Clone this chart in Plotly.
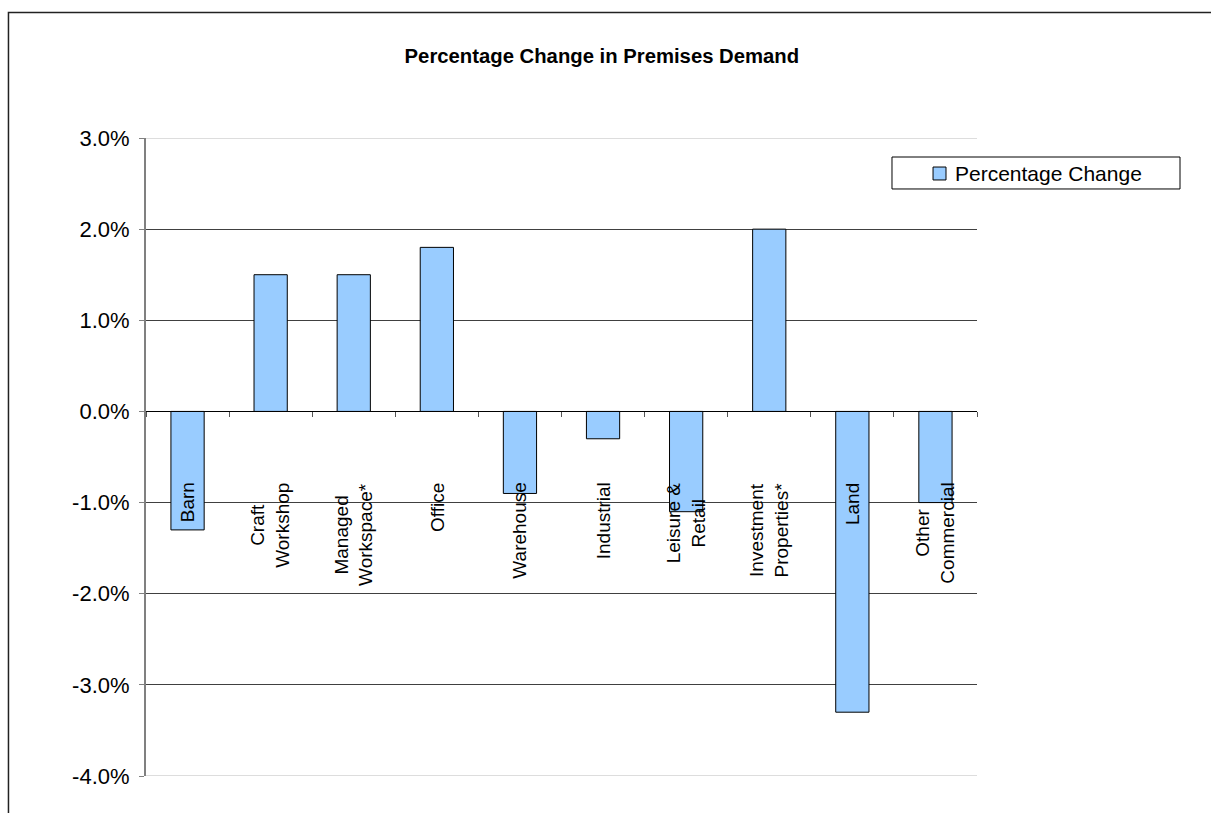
import plotly.graph_objects as go

# Premises categories and their percentage change in demand
categories = ["Barn", "Craft<br>Workshop", "Managed<br>Workspace*", "Office", "Warehouse",
              "Industrial", "Leisure &<br>Retail", "Investment<br>Properties*", "Land",
              "Other<br>Commercial"]
pct_change = [-0.013, 0.015, 0.015, 0.018, -0.009, -0.003, -0.011, 0.020, -0.033, -0.010]
series_name = "Percentage Change"

y_tick_vals = [0.03, 0.02, 0.01, 0.0, -0.01, -0.02, -0.03, -0.04]
y_tick_text = ["3.0%", "2.0%", "1.0%", "0.0%", "-1.0%", "-2.0%", "-3.0%", "-4.0%"]

FONT = "Liberation Sans, Arial, sans-serif"
BAR_FILL = "#99CCFF"
Y_MIN, Y_MAX = -0.04, 0.03
n = len(categories)
x_pos = list(range(n))

fig = go.Figure()
fig.add_trace(go.Bar(
    x=x_pos, y=pct_change, width=0.4, name=series_name, showlegend=False,
    marker=dict(color=BAR_FILL, line=dict(color="#000000", width=1)),
))

# category labels, rotated, hanging just below the zero line
for xi, label in zip(x_pos, categories):
    fig.add_annotation(
        x=xi, y=-0.0076, xref="x", yref="y", text=label, showarrow=False,
        textangle=-90, xanchor="center", yanchor="top", align="center",
        font=dict(family=FONT, size=19, color="#000000"),
    )

# light plot-area edges at top and bottom of the value range
for yv in (Y_MAX, Y_MIN):
    fig.add_shape(type="line", xref="paper", yref="y", x0=0, x1=1, y0=yv, y1=yv,
                  line=dict(color="#DDDDDD", width=2), layer="above")

# chart frame
fig.add_shape(type="rect", xref="paper", yref="paper",
              x0=-0.1655, x1=1.4, y0=-0.2, y1=1.1967,
              line=dict(color="#222222", width=1.5), layer="below")

# legend box: frame, swatch and series name
fig.add_shape(type="rect", xref="paper", yref="paper",
              x0=0.8977, x1=1.2443, y0=0.9201, y1=0.9702,
              line=dict(color="#000000", width=1), fillcolor="#FFFFFF")
fig.add_shape(type="rect", xref="paper", yref="paper",
              x0=0.9471, x1=0.9627, y0=0.9342, y1=0.9545,
              line=dict(color="#000000", width=1), fillcolor=BAR_FILL)
fig.add_annotation(x=0.9711, y=0.9444, xref="paper", yref="paper", text=series_name,
                   showarrow=False, xanchor="left", yanchor="middle",
                   font=dict(family=FONT, size=21, color="#000000"))

fig.update_layout(
    width=1211, height=813,
    margin=dict(l=146, r=234, t=138, b=37),
    paper_bgcolor="#FFFFFF", plot_bgcolor="#FFFFFF",
    font=dict(family=FONT, size=21, color="#000000"),
    title=dict(text="<b>Percentage Change in Premises Demand</b>", x=0.497, xanchor="center",
               y=0.931, yanchor="middle", font=dict(family=FONT, size=20.3, color="#000000")),
    showlegend=False,
    xaxis=dict(range=[-0.5, n - 0.5], anchor="free", position=4 / 7,
               showline=True, linecolor="#000000", linewidth=1,
               tickvals=[i - 0.5 for i in range(n + 1)], ticks="outside",
               ticklen=5, tickcolor="#555555", showticklabels=False,
               showgrid=False, zeroline=False),
    yaxis=dict(range=[Y_MIN, Y_MAX], tickvals=y_tick_vals, ticktext=y_tick_text,
               showline=True, linecolor="#808080", linewidth=2,
               ticks="outside", ticklen=5, tickcolor="#808080", ticklabelstandoff=5,
               showgrid=True, gridcolor="#404040", gridwidth=1,
               zeroline=True, zerolinecolor="#000000", zerolinewidth=1,
               tickfont=dict(family=FONT, size=22, color="#000000")),
)

fig.write_html("out.html")
